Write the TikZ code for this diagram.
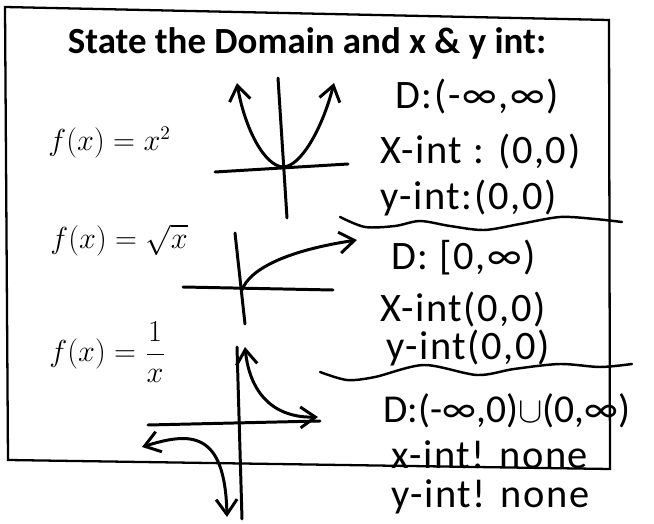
\documentclass[tikz,border=0pt]{standalone}
\usepackage{fontspec}
\setmainfont{Carlito}
\newfontfamily\handfont{Carlito}[LetterSpace=4]
\usetikzlibrary{arrows.meta}

\begin{document}
\begin{tikzpicture}[x=0.02cm,y=-0.02cm,line width=1.7pt,line cap=round,
  >={Straight Barb[length=3mm,width=4.2mm]},
  hand/.style={anchor=west,inner sep=0pt,font=\handfont\fontsize{23}{26}\selectfont},
  handtight/.style={hand,font=\fontsize{22.5}{26}\selectfont},
  formula/.style={anchor=west,inner sep=0pt,font=\fontsize{16}{19}\selectfont},
  wave/.style={line width=1.4pt}]
  \useasboundingbox (0,0) rectangle (654,524);
  % frame
  \draw[line width=1.3pt] (5,7) -- (609,20) -- (610,469) -- (8,460) -- cycle;
  \node[anchor=base,inner sep=0pt,font=\fontsize{21}{24}\selectfont\bfseries] (title) at (307,53) {State the Domain and x \& y int:};
  % functions
  \node[formula] (fsq) at (47,143) {$f(x)=x^2$};
  \node[formula] (frt) at (49,240) {$f(x)=\sqrt{x}$};
  \node[formula] (finv) at (48,352) {$f(x)=\displaystyle\frac{1}{x}$};
  % graph of x^2
  \draw (278,78) -- (287,218);
  \draw (215,172) -- (348,164);
  \draw[<->] (237,83) .. controls (245,130) and (265,166) .. (283,167)
    .. controls (300,167) and (322,130) .. (334,83);
  % graph of sqrt x
  \draw (235,233) -- (245,324);
  \draw (183,287) -- (333,290);
  \draw[->] (242,290) .. controls (250,268) and (290,250) .. (357,240);
  % graph of 1/x
  \draw (237,347) -- (242,519);
  \draw (148,425) -- (320,421);
  \draw[<->] (245,347) .. controls (250,395) and (275,418) .. (318,417);
  \draw[<->] (142,447) .. controls (190,432) and (225,430) .. (227,517);
  % answers
  \node[hand] (dsq) at (394,97) {D:(-∞,∞)};
  \node[hand] (xsq) at (379,152) {X-int : (0,0)};
  \node[hand] (ysq) at (379,198) {y-int:(0,0)};
  \draw[wave] plot[smooth] coordinates {(340,217) (365,227) (395,226) (420,221) (450,226) (484,230) (520,224) (560,217) (595,219) (622,222)};
  \node[hand] (drt) at (390,258) {D: [0,∞)};
  \node[hand] (xrt) at (379,310) {X-int(0,0)};
  \node[hand] (yrt) at (385,348) {y-int(0,0)};
  \draw[wave] plot[smooth] coordinates {(320,372) (347,380) (375,377) (424,365) (477,375) (514,369) (560,364) (600,367) (632,364)};
  \node[handtight] (dinv) at (382,411) {D:(-∞,0)$\cup$(0,∞)};
  \node[hand] (xinv) at (390,455) {x-int! none};
  \node[hand] (yinv) at (390,497) {y-int! none};
\end{tikzpicture}
\end{document}
